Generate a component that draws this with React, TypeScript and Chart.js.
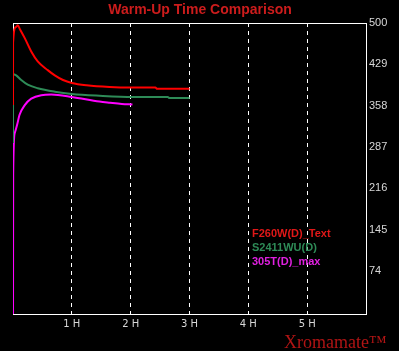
import React, { useEffect, useRef } from "react";
import { Chart, registerables } from "chart.js";

Chart.register(...registerables);

const TITLE = "Warm-Up Time Comparison";
const WATERMARK = "Xromamate™";
const HOUR_TICKS = [1, 2, 3, 4, 5];
const Y_TICKS = [74, 145, 216, 287, 358, 429, 500];

const SERIES_NAMES = ["F260W(D)_Text", "S2411WU(D)", "305T(D)_max"];
const SERIES_COLORS = ["#ff0000", "#2e8b57", "#ff00ff"];
const LEGEND_COLORS = ["#e01818", "#2e8b57", "#e020e0"];

const redHours = [0, 0.001, 0.05, 0.08, 0.12, 0.2, 0.31, 0.42, 0.59, 0.71, 0.85, 1.0, 1.25, 1.64, 2.0, 2.42, 2.45, 3.0];
const redValues = [359, 466, 493, 496, 489, 474, 451, 434, 419, 410, 402, 397, 393, 390, 389, 389, 387, 387];

const greenHours = [0, 0.001, 0.054, 0.14, 0.25, 0.42, 0.71, 1.0, 1.47, 2.04, 2.63, 2.66, 3.0];
const greenValues = [294, 412, 410, 402, 394, 388, 382, 378, 375, 373, 373, 371, 371];

const magentaHours = [0, 0.003, 0.03, 0.07, 0.11, 0.2, 0.31, 0.48, 0.65, 1.0, 1.47, 1.65, 1.85, 2.03];
const magentaValues = [0, 240, 311, 325, 342, 359, 370, 376, 377, 373, 365, 363, 361, 360];

const toPoints = (xs: number[], ys: number[]) => xs.map((x, i) => ({ x, y: ys[i] }));

const decorPlugin = {
  id: "decor",
  beforeDraw(chart: any) {
    const ctx = chart.ctx;
    ctx.save();
    ctx.fillStyle = "#000000";
    ctx.fillRect(0, 0, chart.width, chart.height);
    ctx.restore();
  },
  beforeDatasetsDraw(chart: any) {
    const { ctx, chartArea } = chart;
    ctx.save();
    ctx.strokeStyle = "#ffffff";
    ctx.lineWidth = 1;
    ctx.setLineDash([]);
    ctx.strokeRect(
      Math.round(chartArea.left) + 0.5,
      Math.round(chartArea.top) + 0.5,
      Math.round(chartArea.right - chartArea.left),
      Math.round(chartArea.bottom - chartArea.top)
    );
    ctx.restore();
  },
  afterDraw(chart: any) {
    const { ctx } = chart;
    ctx.save();
    ctx.fillStyle = "#cc1c1c";
    ctx.font = "bold 14px 'Liberation Sans', Arial, sans-serif";
    ctx.textAlign = "center";
    ctx.textBaseline = "middle";
    ctx.fillText(TITLE, 200, 10);
    ctx.font = "bold 11px 'Liberation Sans', Arial, sans-serif";
    ctx.textAlign = "left";
    chart.data.datasets.forEach((ds: any, i: number) => {
      ctx.fillStyle = LEGEND_COLORS[i];
      ctx.fillText(ds.label, 252, 234 + i * 14);
    });
    ctx.fillStyle = "#b01414";
    ctx.font = "18px 'Liberation Serif', 'Times New Roman', serif";
    ctx.textBaseline = "alphabetic";
    ctx.fillText(WATERMARK, 284, 348);
    ctx.restore();
  },
};

export default function App() {
  const ref = useRef<HTMLCanvasElement | null>(null);
  useEffect(() => {
    if (!ref.current) return;
    const chart = new Chart(ref.current, {
      type: "line",
      data: {
        datasets: [
          { label: SERIES_NAMES[0], data: toPoints(redHours, redValues), borderColor: SERIES_COLORS[0] },
          { label: SERIES_NAMES[1], data: toPoints(greenHours, greenValues), borderColor: SERIES_COLORS[1] },
          { label: SERIES_NAMES[2], data: toPoints(magentaHours, magentaValues), borderColor: SERIES_COLORS[2] },
        ].map((d) => ({ ...d, borderWidth: 2, pointRadius: 0, fill: false, cubicInterpolationMode: "monotone" })),
      },
      options: {
        animation: false,
        responsive: false,
        maintainAspectRatio: false,
        layout: { padding: { top: 23, left: 13, right: 0, bottom: 0 } },
        plugins: { legend: { display: false }, title: { display: false }, tooltip: { enabled: false } },
        scales: {
          x: {
            type: "linear",
            min: 0,
            max: 6,
            afterBuildTicks: (scale: any) => {
              scale.ticks = [0, ...HOUR_TICKS, 6].map((v) => ({ value: v }));
            },
            afterFit: (scale: any) => {
              scale.height = 37;
            },
            ticks: {
              color: "#d8d8d8",
              font: { size: 10, family: "'DejaVu Sans', sans-serif" },
              padding: 4,
              maxRotation: 0,
              autoSkip: false,
              callback: (v: any) => (HOUR_TICKS.includes(v) ? v + " H" : ""),
            },
            grid: {
              drawTicks: false,
              lineWidth: 1,
              color: (c: any) => (c.tick && HOUR_TICKS.includes(c.tick.value) ? "#ffffff" : "rgba(0,0,0,0)"),
            },
            border: { display: false, dash: [4, 4] },
          },
          y: {
            type: "linear",
            position: "right",
            min: 0,
            max: 500,
            afterBuildTicks: (scale: any) => {
              scale.ticks = Y_TICKS.map((v) => ({ value: v }));
            },
            afterFit: (scale: any) => {
              scale.width = 33;
            },
            ticks: {
              color: "#d8d8d8",
              font: { size: 11, family: "'Liberation Sans', Arial, sans-serif" },
              padding: 3,
              autoSkip: false,
            },
            grid: { display: false, drawTicks: false },
            border: { display: false },
          },
        },
      },
      plugins: [decorPlugin],
    } as any);
    return () => chart.destroy();
  }, []);
  return (
    <div style={{ position: "fixed", left: 0, top: 0, width: 399, height: 351, background: "#000" }}>
      <canvas ref={ref} width={399} height={351} style={{ display: "block", width: 399, height: 351 }} />
    </div>
  );
}
